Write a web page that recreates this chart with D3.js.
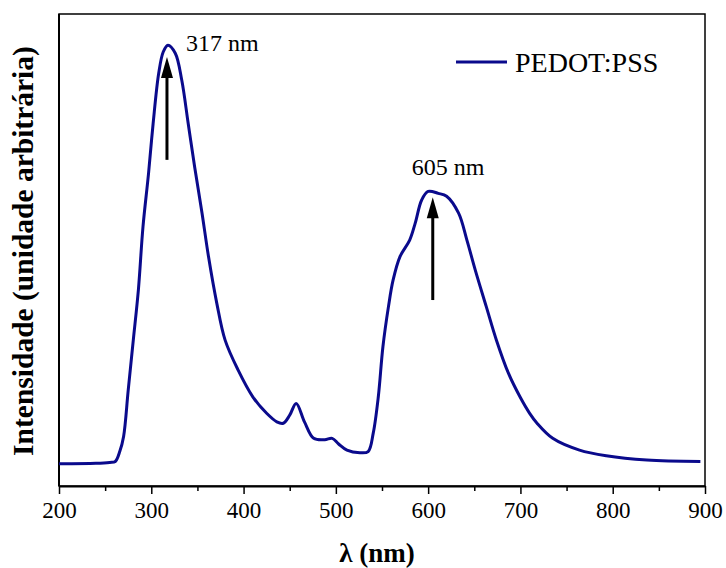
<!DOCTYPE html>
<html>
<head>
<meta charset="utf-8">
<script src="https://cdn.jsdelivr.net/npm/d3@7"></script>
<style>
  body { margin: 0; background: #fff; }
  svg { display: block; font-family: "Liberation Serif", "Times New Roman", serif; }
</style>
</head>
<body>
<svg id="chart"></svg>
<script>
(function() {
  'use strict';

// spectrum: wavelength (nm) and intensity (a.u.)
var wavelength = [200, 240, 255, 261, 266, 270, 275, 280.5, 286, 291, 297, 302, 308, 313, 318, 326, 333, 340, 347, 355,
  362, 371, 380, 394, 410, 425, 436, 443, 450, 457, 466, 476, 488, 496, 503, 512, 526, 535, 540.5, 546,
  551, 557, 562, 569.5, 580, 586, 593, 600, 611, 620, 633, 642, 651, 663, 674, 687, 699.5, 710, 718, 735,
  764, 793, 837, 895];
var intensity = [4.7, 4.8, 5.0, 5.2, 7.4, 10.5, 20.3, 30.9, 41.5, 54.9, 66.2, 76.8, 87.4, 92.0, 93.4, 91.7, 86.0, 76.8, 67.6, 57.8,
  48.6, 38.7, 30.9, 24.6, 18.9, 15.4, 13.6, 13.3, 15.0, 17.5, 13.6, 10.1, 9.8, 10.1, 8.9, 7.6, 7.05, 7.3, 11.2, 18.9,
  29.5, 38.0, 43.6, 48.6, 52.1, 55.7, 60.6, 62.4, 62.0, 61.4, 57.8, 52.1, 45.8, 38.0, 30.9, 23.9, 18.9, 15.4, 13.3, 10.1,
  7.6, 6.4, 5.5, 5.2];

var xTicks = [200, 300, 400, 500, 600, 700, 800, 900];
var xMinorTicks = [250, 350, 450, 550, 650, 750, 850];

var peakNames = ['317 nm', '605 nm'];
var peakWavelength = [317, 605];
var arrowFrom = [69.1, 39.4];
var arrowTo = [90.9, 61.2];

var seriesName = 'PEDOT:PSS';

var W = 726, H = 568;
var margin = {top: 14, right: 21, bottom: 82, left: 59},
    width = W - margin.left - margin.right,
    height = H - margin.top - margin.bottom;

var lineColor = '#0a0a8c';

var svg = d3.select('#chart')
    .attr('width', W)
    .attr('height', H);

var chart = svg.append('g')
    .attr('transform', 'translate(' + margin.left + ',' + margin.top + ')');

var x = d3.scaleLinear()
    .domain([200, 900])
    .range([0, width]);

var y = d3.scaleLinear()
    .domain([0, 100])
    .range([height, 0]);

var data = wavelength.map(function(d, i) { return {w: d, v: intensity[i]}; });

// frame
chart.append('rect')
    .attr('width', width)
    .attr('height', height)
    .attr('fill', 'none')
    .attr('stroke', '#000')
    .attr('stroke-width', 1.5);

// minor ticks
chart.append('g')
    .attr('transform', 'translate(0,' + height + ')')
    .call(d3.axisBottom(x).tickValues(xMinorTicks).tickSize(5).tickFormat(''))
    .call(function(g) { g.select('.domain').remove(); })
    .selectAll('line').attr('stroke-width', 1.5);

var xAxis = chart.append('g')
    .attr('class', 'x axis')
    .attr('transform', 'translate(0,' + height + ')')
    .call(d3.axisBottom(x).tickValues(xTicks).tickSize(8).tickSizeOuter(0).tickPadding(8).tickFormat(d3.format('d')));

xAxis.select('.domain').attr('stroke-width', 2);
xAxis.selectAll('line').attr('stroke-width', 1.5);
xAxis.selectAll('text')
    .attr('fill', '#000')
    .style('font-family', '"Liberation Serif", "Times New Roman", serif')
    .style('font-size', '23px');

// left axis line
chart.append('line')
    .attr('x1', 0).attr('x2', 0)
    .attr('y1', 0).attr('y2', height)
    .attr('stroke', '#000')
    .attr('stroke-width', 2);

// spectrum
var line = d3.line()
    .x(function(d) { return x(d.w); })
    .y(function(d) { return y(d.v); })
    .curve(d3.curveCatmullRom.alpha(0.5));

chart.append('path')
    .datum(data)
    .attr('fill', 'none')
    .attr('stroke', lineColor)
    .attr('stroke-width', 3)
    .attr('stroke-linejoin', 'round')
    .attr('d', line);

// arrows
var peaks = peakNames.map(function(d, i) {
  return {name: d, w: peakWavelength[i], from: arrowFrom[i], to: arrowTo[i]};
});

var ann = chart.selectAll('.peak')
    .data(peaks)
  .enter().append('g')
    .attr('class', 'peak');

ann.append('line')
    .attr('x1', function(d) { return x(d.w); })
    .attr('x2', function(d) { return x(d.w); })
    .attr('y1', function(d) { return y(d.from); })
    .attr('y2', function(d) { return y(d.to) + 18; })
    .attr('stroke', '#000')
    .attr('stroke-width', 3);

ann.append('path')
    .attr('d', function(d) {
      var px = x(d.w), py = y(d.to);
      return 'M' + px + ',' + py + 'L' + (px + 6) + ',' + (py + 21) + 'L' + (px - 6) + ',' + (py + 21) + 'Z';
    })
    .attr('fill', '#000');

ann.append('text')
    .attr('x', function(d, i) { return i === 0 ? x(d.w) + 19 : x(d.w) - 21; })
    .attr('y', function(d, i) { return i === 0 ? 37 : 161; })
    .style('font-size', '24px')
    .text(function(d) { return d.name; });

// legend
var legend = chart.append('g')
    .attr('transform', 'translate(' + (456 - margin.left) + ',' + (62 - margin.top) + ')');

legend.append('line')
    .attr('x1', 0).attr('x2', 51)
    .attr('stroke', lineColor)
    .attr('stroke-width', 3);

legend.append('text')
    .attr('x', 59)
    .attr('y', 10)
    .style('font-size', '28px')
    .text(seriesName);

// axis titles
svg.append('text')
    .attr('x', 377)
    .attr('y', 562)
    .attr('text-anchor', 'middle')
    .style('font-size', '27px')
    .style('font-weight', 'bold')
    .text('λ (nm)');

svg.append('text')
    .attr('transform', 'translate(33,251) rotate(-90)')
    .attr('text-anchor', 'middle')
    .style('font-size', '29.5px')
    .style('font-weight', 'bold')
    .text('Intensidade (unidade arbitrária)');
}());
</script>
</body>
</html>
